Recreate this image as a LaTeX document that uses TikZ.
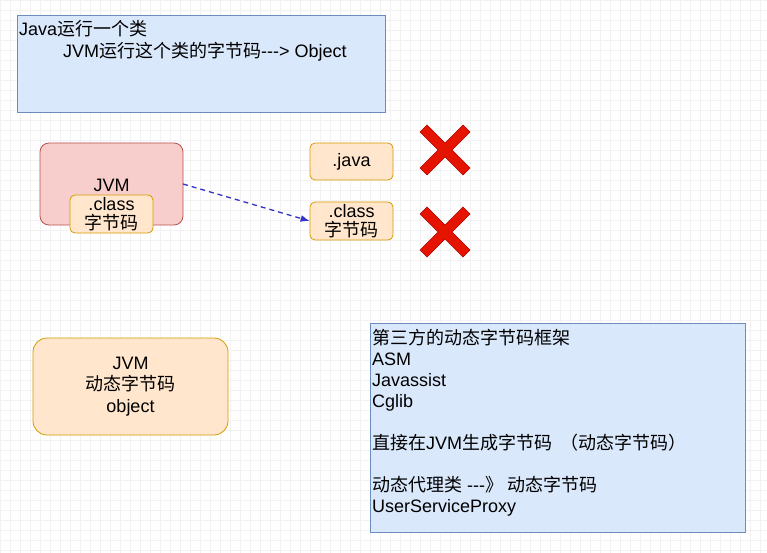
\documentclass[tikz,border=0pt]{standalone}
\usepackage{fontspec}
\setmainfont{Liberation Sans}[Ligatures=NoCommon]
\newfontfamily\cjk{Noto Sans CJK SC}
\usetikzlibrary{arrows.meta}
\definecolor{bluefill}{HTML}{DAE8FC}
\definecolor{bluestroke}{HTML}{6C8EBF}
\definecolor{redfill}{HTML}{F8CECC}
\definecolor{redstroke}{HTML}{B85450}
\definecolor{orfill}{HTML}{FFE6CC}
\definecolor{orstroke}{HTML}{D79B00}
\definecolor{xfill}{HTML}{E51400}
\definecolor{xstroke}{HTML}{B20000}
\definecolor{arrowblue}{HTML}{3333CC}
\definecolor{gridc}{HTML}{F2F2F2}
\newcommand{\dsh}{-{}-{}-}
\begin{document}
\begin{tikzpicture}[x=1pt,y=-1pt,
  txt/.style={font=\fontsize{18}{20}\selectfont, inner sep=0pt},
  bluebox/.style={draw=bluestroke, fill=bluefill, line width=0.8pt},
  redbox/.style={draw=redstroke, fill=redfill, rounded corners=9pt, line width=0.8pt},
  orbox/.style={draw=orstroke, fill=orfill, rounded corners=5pt, line width=0.8pt},
  orbig/.style={draw=orstroke, fill=orfill, rounded corners=14pt, line width=0.8pt},
  xmark/.style={fill=xfill, draw=xstroke, line width=0.6pt, line join=miter},
  dasharrow/.style={draw=arrowblue, dash pattern=on 5pt off 4pt, line width=1.3pt, -{Latex[length=9pt,width=7pt]}}]
\useasboundingbox (0,0) rectangle (767,553);
\fill[white] (0,0) rectangle (767,553);
\draw[gridc, line width=0.4pt, step=10pt] (0,0) grid (767,553);
% top blue box
\draw[bluebox] (17,15) rectangle (385,112);
\node[txt, anchor=base west] (t1) at (19,36) {Java{\cjk 运行一个类}};
\node[txt, anchor=base west] (t2) at (63,58) {JVM{\cjk 运行这个类的字节码}\dsh> Object};
% JVM red box
\draw[redbox] (40,143) rectangle (183,225);
\node[txt] (jvm) at (111.5,185) {JVM};
\node[orbox, minimum width=83pt, minimum height=38pt, inner sep=0pt] (cls1) at (111.5,214) {};
\node[txt, align=center, font=\fontsize{18}{19}\selectfont] at (cls1) {.class\\{\cjk 字节码}};
% right small boxes
\node[orbox, minimum width=83pt, minimum height=37pt, inner sep=0pt] (java) at (351.5,161.5) {};
\node[txt] at (java) {.java};
\node[orbox, minimum width=83pt, minimum height=38pt, inner sep=0pt] (cls2) at (351.5,221) {};
\node[txt, align=center, font=\fontsize{18}{19}\selectfont] at (cls2) {.class\\{\cjk 字节码}};
% arrow
\coordinate (as) at (183,184);
\draw[dasharrow] (as) -- (cls2.west);
% red crosses
\foreach \cx/\cy/\nm in {445/150/xa, 445/232/xb}{
  \begin{scope}[shift={(\cx,\cy)}]
    \filldraw[xmark] (-25,-18) -- (-18,-25) -- (0,-7) -- (18,-25) -- (25,-18) -- (7,0)
      -- (25,18) -- (18,25) -- (0,7) -- (-18,25) -- (-25,18) -- (-7,0) -- cycle;
  \end{scope}
}
% bottom JVM box
\node[orbig, minimum width=195pt, minimum height=97pt, inner sep=0pt] (jvm2) at (130.5,386.5) {};
\node[txt, align=center, font=\fontsize{18}{21.5}\selectfont] at (jvm2) {JVM\\{\cjk 动态字节码}\\object};
% right blue box
\draw[bluebox] (370,323) rectangle (745,532);
\node[txt, anchor=base west] (r1) at (372,344) {\cjk 第三方的动态字节码框架};
\node[txt, anchor=base west] (r2) at (372,365) {ASM};
\node[txt, anchor=base west] (r3) at (372,386) {Javassist};
\node[txt, anchor=base west] (r4) at (372,407) {Cglib};
\node[txt, anchor=base west] (r5) at (372,449) {{\cjk 直接在}JVM{\cjk 生成字节码\ \ （动态字节码）}};
\node[txt, anchor=base west] (r6) at (372,491) {{\cjk 动态代理类} \dsh{\cjk 》 动态字节码}};
\node[txt, anchor=base west] (r7) at (372,512) {UserServiceProxy};
\end{tikzpicture}
\end{document}
